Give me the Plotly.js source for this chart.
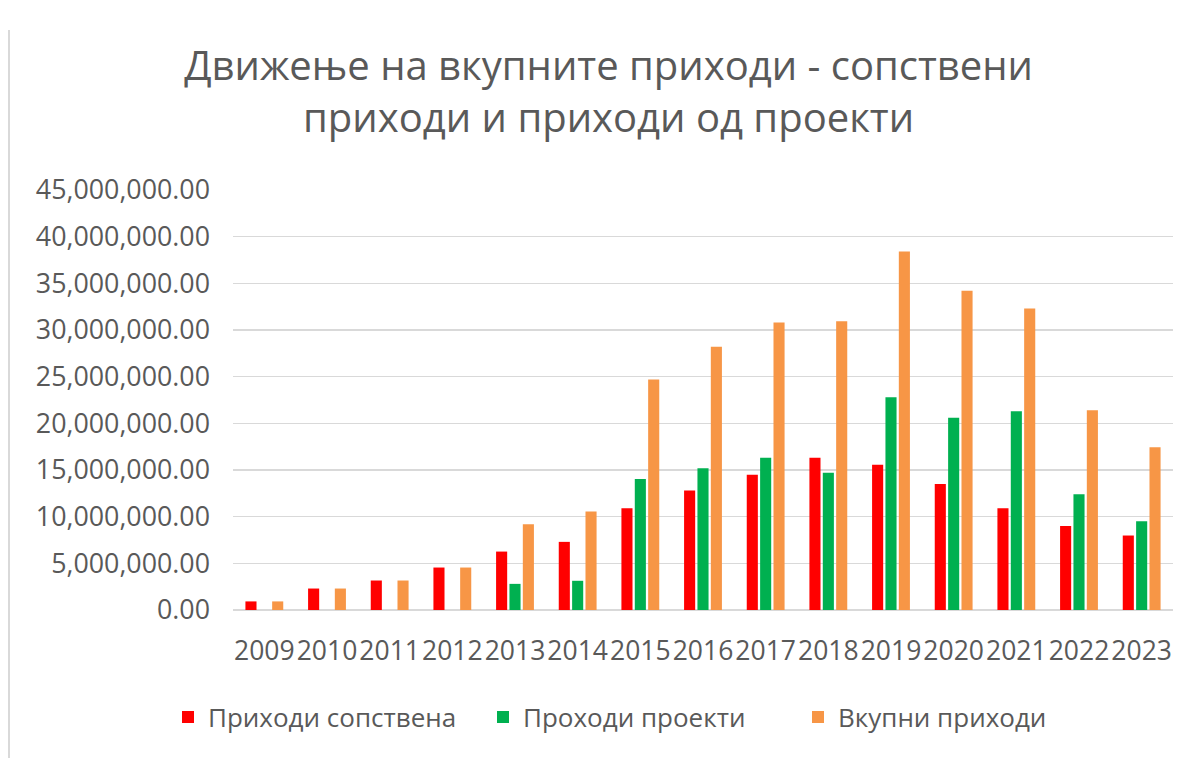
<!DOCTYPE html>
<html>
<head>
<meta charset="utf-8">
<script src="https://cdn.plot.ly/plotly-3.0.1.min.js"></script>
<style>
  html, body { margin: 0; padding: 0; background: #fff; }
  #chart { width: 1198px; height: 758px; }
</style>
</head>
<body>
<div id="chart"></div>
<script>
const years = ['2009','2010','2011','2012','2013','2014','2015','2016','2017','2018','2019','2020','2021','2022','2023'];
const ownIncome = [920000, 2300000, 3160000, 4550000, 6260000, 7300000, 10900000, 12800000, 14500000, 16300000, 15570000, 13500000, 10900000, 9000000, 7980000];
const projectIncome = [0, 0, 0, 0, 2800000, 3130000, 14030000, 15200000, 16300000, 14700000, 22800000, 20600000, 21300000, 12400000, 9500000];
const totalIncome = [920000, 2300000, 3160000, 4550000, 9190000, 10550000, 24700000, 28200000, 30800000, 30950000, 38400000, 34200000, 32300000, 21400000, 17450000];
const seriesNames = ['Приходи сопствена', 'Проходи проекти', 'Вкупни приходи'];
const yTickValues = [0, 5000000, 10000000, 15000000, 20000000, 25000000, 30000000, 35000000, 40000000, 45000000];

const FONT = '"Open Sans", "DejaVu Sans", sans-serif';
const GREY = '#595959';

const traces = [
  { type: 'bar', name: seriesNames[0], x: years, y: ownIncome, marker: { color: '#FF0000' } },
  { type: 'bar', name: seriesNames[1], x: years, y: projectIncome, marker: { color: '#00B050' } },
  { type: 'bar', name: seriesNames[2], x: years, y: totalIncome, marker: { color: '#F79646' } }
];

const layout = {
  width: 1198,
  height: 758,
  paper_bgcolor: '#ffffff',
  plot_bgcolor: '#ffffff',
  margin: { l: 233, r: 25, t: 190, b: 148 },
  font: { family: FONT, color: GREY },
  title: {
    text: 'Движење на вкупните приходи - сопствени<br>приходи и приходи од проекти',
    font: { family: FONT, size: 40, color: GREY },
    xref: 'container', x: 0.508, xanchor: 'center',
    yref: 'container', y: 0.895, yanchor: 'top'
  },
  barmode: 'group',
  bargap: 0.36,
  bargroupgap: 0.17,
  xaxis: {
    type: 'category',
    tickfont: { family: FONT, size: 26.5, color: GREY },
    showgrid: false,
    showline: false,
    ticks: '',
    ticklabelstandoff: 22,
    fixedrange: true
  },
  yaxis: {
    range: [0, 45000000],
    tickvals: yTickValues,
    tickformat: ',.2f',
    tickfont: { family: FONT, size: 26.8, color: GREY },
    showgrid: true,
    gridcolor: '#d9d9d9',
    gridwidth: 1.5,
    zeroline: true,
    zerolinecolor: '#d9d9d9',
    zerolinewidth: 1.5,
    showline: false,
    ticks: '',
    ticklabelstandoff: 22,
    fixedrange: true
  },
  showlegend: true,
  legend: {
    orientation: 'h',
    xref: 'paper', x: (168 - 233) / 940, xanchor: 'left',
    yref: 'paper', y: -0.255, yanchor: 'middle',
    font: { family: FONT, size: 26, color: GREY },
    itemwidth: 30,
    entrywidth: 270,
    traceorder: 'normal'
  },
  shapes: [
    { type: 'line', xref: 'paper', yref: 'paper',
      x0: (9 - 233) / 940, x1: (9 - 233) / 940,
      y0: (610 - 30) / 420, y1: (610 - 758) / 420,
      line: { color: '#d9d9d9', width: 2 } }
  ]
};

Plotly.newPlot('chart', traces, layout, { displayModeBar: false, staticPlot: true });
</script>
</body>
</html>
